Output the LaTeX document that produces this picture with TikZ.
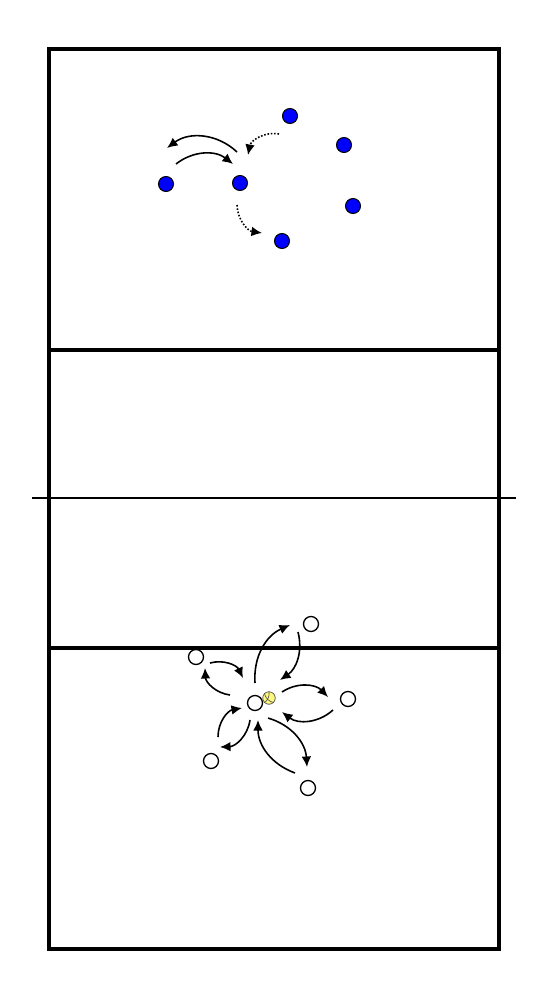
\documentclass[tikz,border=0pt]{standalone}
\usetikzlibrary{arrows.meta}
\begin{document}
\begin{tikzpicture}[x=0.02cm, y=-0.02cm,
    court/.style={line width=2.7pt},
    netline/.style={line width=1.6pt},
    blueplayer/.style={circle, draw=black, line width=0.6pt, fill=blue,
        minimum size=0.3cm, inner sep=0pt},
    whiteplayer/.style={circle, draw=black, line width=0.75pt, fill=white,
        minimum size=0.3cm, inner sep=0pt},
    ballstyle/.style={circle, draw=black!70, line width=0.4pt, fill=yellow!50,
        minimum size=0.25cm, inner sep=0pt},
    pass/.style={line width=0.9pt, -{Latex[length=6pt,width=5.5pt]}},
    run/.style={pass, densely dotted}
]
    \useasboundingbox (0,0) rectangle (550,1000);
    % court
    \draw[court] (49,49) rectangle (499,949);
    \draw[court] (49,350) -- (499,350);
    \draw[court] (49,648) -- (499,648);
    \draw[netline] (32,498) -- (516,498);

    % blue team
    \node[blueplayer] (b1) at (166,184) {};
    \node[blueplayer] (b2) at (240,183) {};
    \node[blueplayer] (b3) at (290,116) {};
    \node[blueplayer] (b4) at (344,145) {};
    \node[blueplayer] (b5) at (353,206) {};
    \node[blueplayer] (b6) at (282,241) {};
    \coordinate (t1s) at (237,152);
    \coordinate (t1e) at (167,148);
    \coordinate (t2s) at (176,164);
    \coordinate (t2e) at (233,164);
    \coordinate (t3s) at (279,134);
    \coordinate (t3e) at (248,155);
    \coordinate (t4s) at (237,205);
    \coordinate (t4e) at (262,233);
    \draw[pass] (t1s) to[bend right=40] (t1e);
    \draw[pass] (t2s) to[bend left=38] (t2e);
    \draw[run] (t3s) to[bend right=45] (t3e);
    \draw[run] (t4s) to[bend right=40] (t4e);

    % white team
    \node[whiteplayer] (w1) at (196,657) {};
    \node[whiteplayer] (w2) at (311,624) {};
    \node[whiteplayer] (w3) at (348,699) {};
    \node[whiteplayer] (w4) at (255,703) {};
    \node[whiteplayer] (w5) at (211,761) {};
    \node[whiteplayer] (w6) at (308,788) {};
    \node[ballstyle] (ball) at (269,698) {};
    \draw[line width=0.35pt, black!70] (ball.north west) to[bend right=30] (ball.south east);
    \draw[line width=0.35pt, black!70] (ball.north) to[bend left=30] (ball.south west);
    \coordinate (m1s) at (255,683);
    \coordinate (m1e) at (290,625);
    \coordinate (m2s) at (298,632);
    \coordinate (m2e) at (280,680);
    \coordinate (m3s) at (230,695);
    \coordinate (m3e) at (205,668);
    \coordinate (m4s) at (210,663);
    \coordinate (m4e) at (243,678);
    \coordinate (m5s) at (282,692);
    \coordinate (m5e) at (328,697);
    \coordinate (m6s) at (333,710);
    \coordinate (m6e) at (282,712);
    \coordinate (m7s) at (250,720);
    \coordinate (m7e) at (220,747);
    \coordinate (m8s) at (218,737);
    \coordinate (m8e) at (242,708);
    \coordinate (m9s) at (268,718);
    \coordinate (m9e) at (307,767);
    \coordinate (m10s) at (295,773);
    \coordinate (m10e) at (258,720);
    \draw[pass] (m1s) to[bend left=35] (m1e);
    \draw[pass] (m2s) to[bend left=35] (m2e);
    \draw[pass] (m3s) to[bend left=40] (m3e);
    \draw[pass] (m4s) to[bend left=40] (m4e);
    \draw[pass] (m5s) to[bend left=40] (m5e);
    \draw[pass] (m6s) to[bend left=40] (m6e);
    \draw[pass] (m7s) to[bend left=40] (m7e);
    \draw[pass] (m8s) to[bend left=40] (m8e);
    \draw[pass] (m9s) to[bend left=35] (m9e);
    \draw[pass] (m10s) to[bend left=35] (m10e);
\end{tikzpicture}
\end{document}
